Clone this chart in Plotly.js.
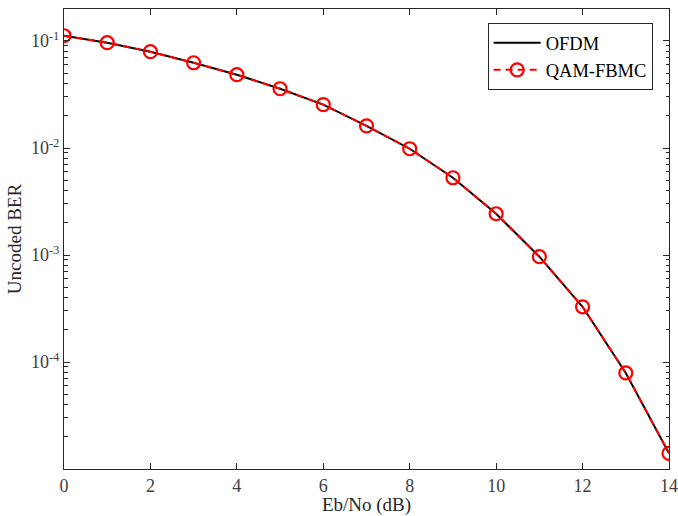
<!DOCTYPE html>
<html>
<head>
<meta charset="utf-8">
<script src="https://cdn.plot.ly/plotly-3.0.1.min.js"></script>
<style>html,body{margin:0;padding:0;background:#fff;}#chart{width:678px;height:516px;}</style>
</head>
<body>
<div id="chart"></div>
<script>
const ebno = [0, 1, 2, 3, 4, 5, 6, 7, 8, 9, 10, 11, 12, 13, 14];
const berOFDM = [0.112, 0.0964, 0.0794, 0.0626, 0.0484, 0.0358, 0.0254, 0.0161, 0.00984, 0.00527, 0.00243, 0.000964, 0.000328, 0.000079, 0.000014];
const berFBMC = [0.112, 0.0964, 0.0794, 0.0626, 0.0484, 0.0358, 0.0254, 0.0161, 0.00984, 0.00527, 0.00243, 0.000964, 0.000328, 0.000079, 0.000014];
const xTicks = [0, 2, 4, 6, 8, 10, 12, 14];
const yTicks = [1e-4, 1e-3, 1e-2, 1e-1];
const yTickText = ['10<sup>-4</sup>', '10<sup>-3</sup>', '10<sup>-2</sup>', '10<sup>-1</sup>'];
const seriesNames = ['OFDM', 'QAM-FBMC'];
const xTitle = 'Eb/No (dB)';
const yTitle = 'Uncoded BER';

const minorVals = [];
for (let e = -5; e <= -1; e++) {
  for (let m = 2; m <= 9; m++) minorVals.push(m * Math.pow(10, e));
}

const font = 'Liberation Serif, DejaVu Serif, serif';
const textColor = '#262626';
const yRange = [-5, -0.701];

const traces = [
  {x: ebno, y: berOFDM, name: seriesNames[0], type: 'scatter', mode: 'lines',
   line: {color: '#000000', width: 2}},
  {x: ebno, y: berFBMC, name: seriesNames[1], type: 'scatter', mode: 'lines+markers',
   line: {color: '#ff0000', width: 2, dash: '7px,5px'},
   marker: {symbol: 'circle-open', size: 13, color: '#ff0000', line: {width: 2.2, color: '#ff0000'}}},
  {x: [0], y: [0.1], yaxis: 'y2', type: 'scatter', mode: 'markers', showlegend: false,
   marker: {opacity: 0}, hoverinfo: 'skip'}
];

const layout = {
  width: 678, height: 516,
  margin: {l: 64, r: 9, t: 9, b: 47, pad: 0},
  paper_bgcolor: '#ffffff', plot_bgcolor: '#ffffff',
  font: {family: font, color: textColor, size: 18},
  showlegend: true,
  legend: {x: 0.973, y: 0.969, xanchor: 'right', yanchor: 'top',
    bgcolor: '#ffffff', bordercolor: '#262626', borderwidth: 1,
    font: {family: font, size: 18.5, color: '#000000'}, itemwidth: 47,
    tracegroupgap: 0},
  xaxis: {range: [0, 14], tickvals: xTicks, ticktext: xTicks.map(String),
    ticks: 'inside', ticklen: 6, tickwidth: 1, tickcolor: '#262626',
    showline: true, linecolor: '#262626', linewidth: 1, mirror: 'ticks',
    showgrid: false, zeroline: false,
    tickfont: {family: font, size: 18, color: '#404040'},
    title: {text: xTitle, standoff: 3, font: {family: font, size: 19, color: '#262626'}}},
  yaxis: {type: 'log', range: yRange, tickvals: yTicks, ticktext: yTickText,
    ticks: 'inside', ticklen: 6, tickwidth: 1, tickcolor: '#262626',
    showline: true, linecolor: '#262626', linewidth: 1, mirror: 'ticks',
    showgrid: false, zeroline: false,
    tickfont: {family: font, size: 18, color: '#404040'},
    title: {text: yTitle, standoff: 4, font: {family: font, size: 19, color: '#262626'}}},
  yaxis2: {type: 'log', range: yRange, overlaying: 'y', side: 'left',
    tickvals: minorVals, showticklabels: false,
    ticks: 'inside', ticklen: 3.5, tickwidth: 1, tickcolor: '#262626',
    showline: false, mirror: 'ticks', showgrid: false, zeroline: false}
};

Plotly.newPlot('chart', traces, layout, {staticPlot: true, displayModeBar: false});
</script>
</body>
</html>
